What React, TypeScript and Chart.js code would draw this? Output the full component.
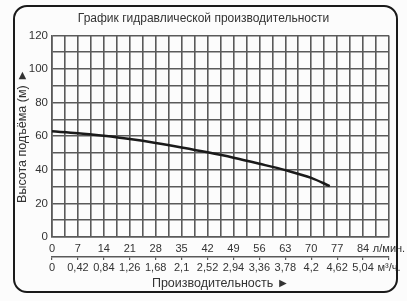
import React, { useEffect, useRef } from "react";
import { Chart, registerables } from "chart.js";

Chart.register(...registerables);

const titleText = "График гидравлической производительности";
const yTitle = "Высота подъёма (м) ►";
const xTitle = "Производительность ►";

const flowLpm = [0, 7, 14, 21, 28, 35, 42, 49, 56, 63, 70, 75];
const headM = [62.9, 61.8, 60.2, 58.3, 56, 53.3, 50.4, 47.2, 43.6, 39.8, 35.2, 30.3];

const lpmLabels = ["0", "7", "14", "21", "28", "35", "42", "49", "56", "63", "70", "77", "84", "л/мин."];
const m3hLabels = ["0", "0,42", "0,84", "1,26", "1,68", "2,1", "2,52", "2,94", "3,36", "3,78", "4,2", "4,62", "5,04", "м³/ч."];

const X_MAX = 91;
const X_STEP = 7;
const Y_MAX = 120;

const FONT = "'Liberation Sans', Arial, sans-serif";
const TEXT = "#333";
const GRID = "#5a5a5a";

export default function App() {
  const ref = useRef<HTMLCanvasElement | null>(null);

  useEffect(() => {
    if (!ref.current) return;
    const chart = new Chart(ref.current, {
      type: "line",
      data: {
        datasets: [
          {
            data: flowLpm.map((x, i) => ({ x, y: headM[i] })),
            borderColor: "#1a1a1a",
            borderWidth: 2.5,
            pointRadius: 0,
            tension: 0.4,
            cubicInterpolationMode: "monotone",
            xAxisID: "x",
            yAxisID: "y",
          },
        ],
      },
      options: {
        animation: false,
        responsive: false,
        maintainAspectRatio: false,
        layout: { padding: { left: 0, right: 0, top: 0, bottom: 0 } },
        plugins: {
          legend: { display: false },
          tooltip: { enabled: false },
          title: {
            display: true,
            text: titleText,
            color: TEXT,
            font: { family: FONT, size: 12, weight: "normal" },
            padding: { top: 11, bottom: 10 },
          },
        },
        scales: {
          x: {
            type: "linear",
            position: "bottom",
            min: 0,
            max: X_MAX,
            afterBuildTicks: (s: any) => {
              const t = [];
              for (let i = 0; i <= X_MAX / (X_STEP / 2); i++) t.push({ value: (i * X_STEP) / 2 });
              s.ticks = t;
            },
            afterFit: (s: any) => {
              s.height = 20;
              s.paddingRight = 18;
              s.paddingLeft = 0;
            },
            ticks: {
              autoSkip: false,
              maxRotation: 0,
              color: TEXT,
              font: { family: FONT, size: 11 },
              padding: 5,
              callback: (v: any) => {
                const n = Number(v);
                if (Math.abs(n / X_STEP - Math.round(n / X_STEP)) > 1e-6) return "";
                return lpmLabels[Math.round(n / X_STEP)] ?? "";
              },
            },
            grid: { color: GRID, lineWidth: 1.6, drawTicks: false },
            border: { color: GRID, width: 1.6 },
          },
          x2: {
            type: "linear",
            position: "bottom",
            min: 0,
            max: X_MAX,
            afterBuildTicks: (s: any) => {
              const t = [];
              for (let i = 0; i <= X_MAX / X_STEP; i++) t.push({ value: i * X_STEP });
              s.ticks = t;
            },
            afterFit: (s: any) => {
              s.height = 44;
              s.paddingRight = 18;
              s.paddingLeft = 0;
            },
            ticks: {
              autoSkip: false,
              maxRotation: 0,
              color: TEXT,
              font: { family: FONT, size: 11 },
              padding: 1,
              callback: (v: any) => m3hLabels[Math.round(Number(v) / X_STEP)] ?? "",
            },
            grid: { drawOnChartArea: false, color: GRID, tickLength: 3, lineWidth: 1.2 },
            border: { color: GRID, width: 1.4 },
            title: {
              display: true,
              text: xTitle,
              color: TEXT,
              font: { family: FONT, size: 12.5 },
              padding: { top: 3, bottom: 10 },
            },
          },
          y: {
            type: "linear",
            min: 0,
            max: Y_MAX,
            afterBuildTicks: (s: any) => {
              const t = [];
              for (let v = 0; v <= Y_MAX; v += 10) t.push({ value: v });
              s.ticks = t;
            },
            afterFit: (s: any) => {
              s.width = 52;
            },
            ticks: {
              autoSkip: false,
              color: TEXT,
              font: { family: FONT, size: 11.5 },
              padding: 4,
              callback: (v: any) => (Number(v) % 20 === 0 ? String(v) : ""),
            },
            grid: { color: GRID, lineWidth: 1.6, drawTicks: false },
            border: { color: GRID, width: 1.6 },
            title: {
              display: true,
              text: yTitle,
              color: TEXT,
              font: { family: FONT, size: 12.5 },
              padding: { top: 15, bottom: 0 },
            },
          },
        },
      },
    } as any);
    return () => chart.destroy();
  }, []);

  return (
    <div style={{ position: "fixed", left: 0, top: 0, width: 407, height: 301, background: "#fcfcfc" }}>
      <canvas ref={ref} width={407} height={301} style={{ position: "absolute", left: 0, top: 0 }} />
      <div
        style={{
          position: "absolute",
          left: 13,
          top: 5,
          width: 381,
          height: 284,
          border: "2px solid #1a1a1a",
          borderRadius: 14,
          pointerEvents: "none",
        }}
      />
    </div>
  );
}
